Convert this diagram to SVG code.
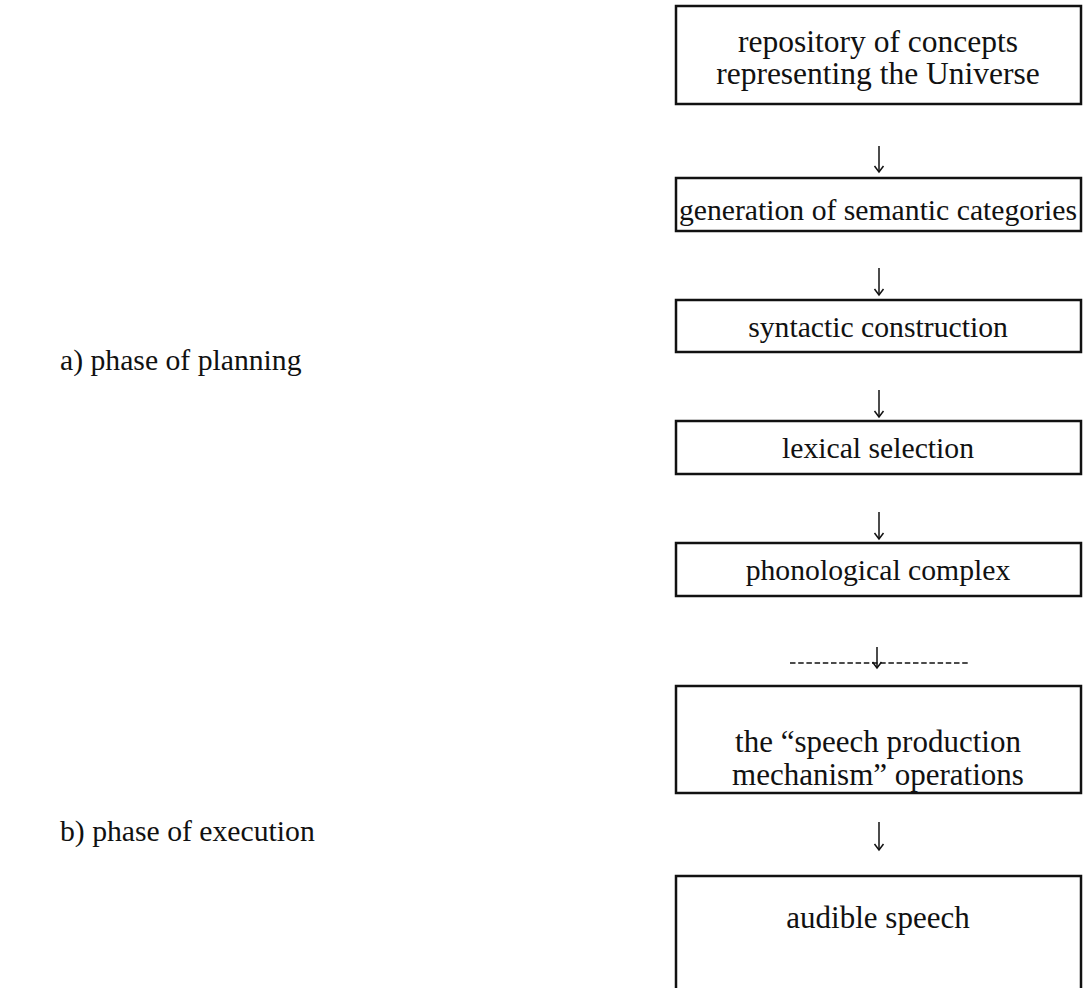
<svg xmlns="http://www.w3.org/2000/svg" width="1084" height="988" viewBox="0 0 1084 988">
<style>
text{font-family:"Liberation Serif","Times New Roman",serif;font-size:29.7px;fill:#111;}
.n text{text-anchor:middle;}
.big text{font-size:31.5px;}
.mid text{font-size:31px;}
.box{fill:#fff;stroke:#111;stroke-width:2.5;}
.c line{stroke:#111;stroke-width:1.5;fill:none;}
.dash{stroke-dasharray:5.5 2.7;}
</style>
<defs>
<marker id="ah" markerWidth="12" markerHeight="12" refX="10" refY="6" orient="auto" markerUnits="userSpaceOnUse" viewBox="0 0 12 12">
<path d="M4,1.5 L10,6 L4,10.5" stroke="#111" stroke-width="1.5" fill="none"/>
</marker>
</defs>
<rect width="1084" height="988" fill="#fff"/>
<g id="labels">
<text x="60" y="370">a) phase of planning</text>
<text x="60" y="841">b) phase of execution</text>
</g>
<g id="n1" class="n big"><rect class="box" x="676" y="6" width="405" height="98"/><text x="878" y="52">repository of concepts</text><text x="878" y="84">representing the Universe</text></g>
<g id="n2" class="n"><rect class="box" x="676" y="178" width="405" height="53"/><text x="878" y="220">generation of semantic categories</text></g>
<g id="n3" class="n"><rect class="box" x="676" y="300" width="405" height="52"/><text x="878" y="337">syntactic construction</text></g>
<g id="n4" class="n"><rect class="box" x="676" y="421" width="405" height="53"/><text x="878" y="458">lexical selection</text></g>
<g id="n5" class="n"><rect class="box" x="676" y="543" width="405" height="53"/><text x="878" y="580">phonological complex</text></g>
<g id="n6" class="n mid"><rect class="box" x="676" y="686" width="405" height="107"/><text x="878" y="752">the “speech production</text><text x="878" y="785">mechanism” operations</text></g>
<g id="n7" class="n mid"><rect class="box" x="676" y="876" width="405" height="130"/><text x="878" y="928">audible speech</text></g>
<g id="connectors" class="c">
<line x1="879" y1="146" x2="879" y2="172" marker-end="url(#ah)"/>
<line x1="879" y1="268" x2="879" y2="295" marker-end="url(#ah)"/>
<line x1="879" y1="390" x2="879" y2="417" marker-end="url(#ah)"/>
<line x1="879" y1="512" x2="879" y2="539" marker-end="url(#ah)"/>
<line x1="877" y1="647" x2="877" y2="668" marker-end="url(#ah)"/>
<line class="dash" x1="790" y1="663" x2="970" y2="663"/>
<line x1="879" y1="822" x2="879" y2="850" marker-end="url(#ah)"/>
</g>
</svg>
